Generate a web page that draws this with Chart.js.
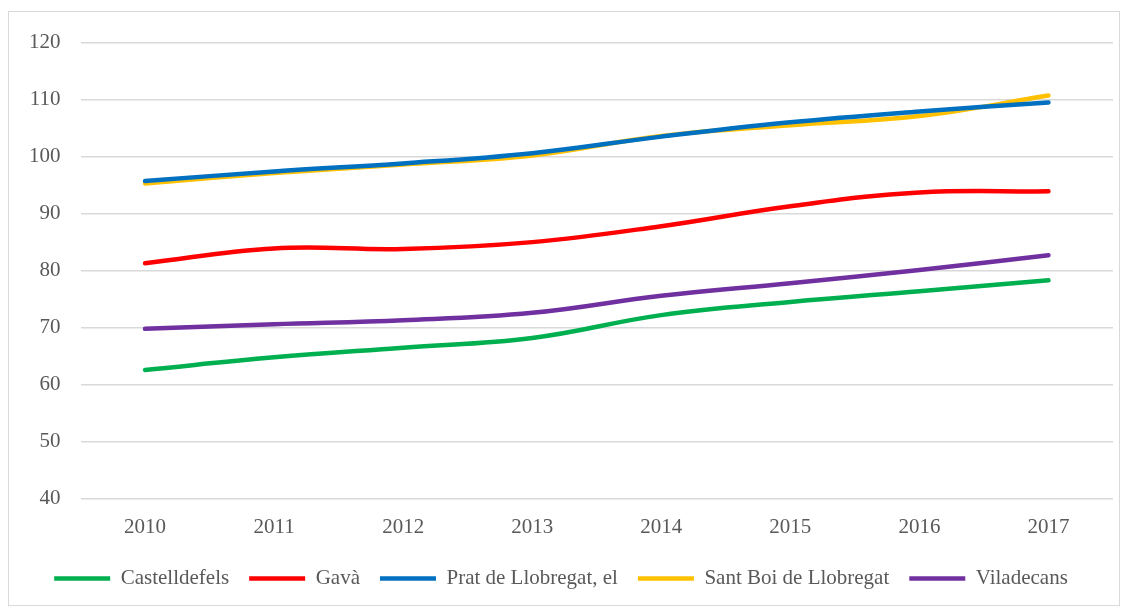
<!DOCTYPE html>
<html>
<head>
<meta charset="utf-8">
<script src="https://cdn.jsdelivr.net/npm/chart.js@4/dist/chart.umd.min.js"></script>
<style>
  body { margin: 0; background: #fff; }
  #wrap { position: absolute; left: 8px; top: 11px; width: 1112px; height: 595px; border: 1px solid #d9d9d9; box-sizing: border-box; }
</style>
</head>
<body>
<div id="wrap"><canvas id="chart"></canvas></div>
<script>
const years = ['2010', '2011', '2012', '2013', '2014', '2015', '2016', '2017'];
const castelldefels = [62.6, 64.8, 66.5, 68.2, 72.2, 74.5, 76.4, 78.3];
const gava = [81.3, 83.9, 83.8, 85.0, 87.8, 91.3, 93.7, 93.9];
const prat = [95.7, 97.4, 98.8, 100.6, 103.5, 106.0, 107.9, 109.5];
const santBoi = [95.3, 97.1, 98.6, 100.2, 103.6, 105.5, 107.1, 110.7];
const viladecans = [69.8, 70.6, 71.3, 72.6, 75.6, 77.8, 80.1, 82.7];

const font = 'Liberation Serif';

function line(label, data, color) {
    return {
        label: label,
        data: data,
        borderColor: color,
        backgroundColor: color,
        borderWidth: 4.5,
        borderCapStyle: 'round',
        pointRadius: 0,
        pointStyle: 'line',
        tension: 0.4,
        fill: false
    };
}

document.addEventListener('DOMContentLoaded', () => {
    new Chart(document.getElementById('chart').getContext('2d'), {
        type: 'line',
        data: {
            labels: years,
            datasets: [
                line('Castelldefels', castelldefels, '#00b050'),
                line('Gavà', gava, '#ff0000'),
                line('Prat de Llobregat, el', prat, '#0070c0'),
                line('Sant Boi de Llobregat', santBoi, '#ffc000'),
                line('Viladecans', viladecans, '#7030a0')
            ]
        },
        options: {
            responsive: true,
            maintainAspectRatio: false,
            animation: false,
            layout: { padding: { left: 0, right: 6, top: 28, bottom: 6 } },
            scales: {
                x: {
                    offset: true,
                    grid: { display: false },
                    border: { display: false },
                    ticks: { color: '#595959', font: { family: font, size: 21 }, padding: 8 }
                },
                y: {
                    min: 40,
                    max: 120,
                    ticks: { stepSize: 10, color: '#595959', font: { family: font, size: 21, lineHeight: 1 }, padding: 20 },
                    grid: { color: '#d9d9d9', lineWidth: 1.5, drawTicks: false },
                    border: { display: false }
                }
            },
            plugins: {
                legend: {
                    position: 'bottom',
                    labels: {
                        usePointStyle: true,
                        pointStyleWidth: 56,
                        color: '#595959',
                        font: { family: font, size: 21 },
                        padding: 20,
                        boxHeight: 21
                    }
                },
                tooltip: { enabled: false }
            }
        }
    });
});
</script>
</body>
</html>
